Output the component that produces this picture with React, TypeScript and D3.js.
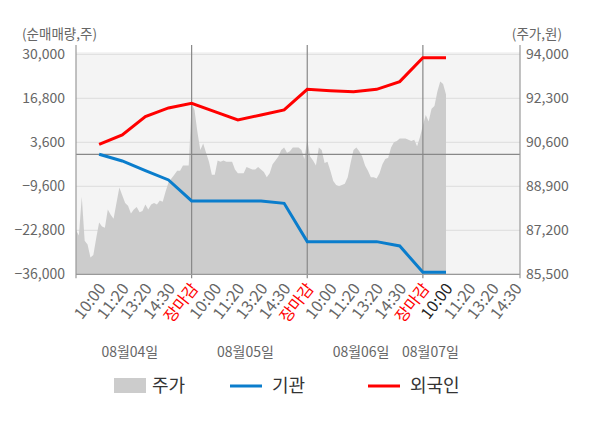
import * as d3 from 'd3';

const dayTimes = ['10:00', '11:20', '13:20', '14:30', '장마감'];
const dates = ['08월04일', '08월05일', '08월06일', '08월07일'];
const tickLabels = [...dayTimes, ...dayTimes, ...dayTimes, ...dayTimes.slice(0, 4)];

const volumeTicks = [30000, 16800, 3600, -9600, -22800, -36000];
const priceTicks = [94000, 92300, 90600, 88900, 87200, 85500];

// net buying (shares), one value per time tick, from 10:00 on 08/04
const foreign = [3000, 5800, 11300, 13900, 15300, 12800, 10300, 11800, 13300, 19500, 19100, 18800, 19500, 21800, 29000, 29000];
const institution = [0, -2000, -4900, -7700, -14000, -14000, -14000, -14000, -14700, -26200, -26200, -26200, -26200, -27500, -35400, -35400];

// share price, sampled 8 times per tick interval
const price = [
  87200, 87000, 88500, 86800, 86650, 86150, 86250, 86900, 87500, 87350,
  87300, 88000, 87800, 87650, 88250, 88850, 88550, 88250, 88150, 87850,
  88000, 88100, 87900, 87950, 88200, 88000, 88200, 88250, 88200, 88350,
  88300, 88700, 89050, 89200, 89350, 89500, 89500, 89700, 89700, 89700,
  92100, 91850, 91000, 90300, 90550, 90200, 89850, 89350, 89350, 89900,
  89850, 89900, 89850, 89850, 89850, 89550, 89400, 89400, 89400, 89650,
  89600, 89550, 89550, 89650, 89550, 89450, 89250, 89400, 89750, 89900,
  90050, 90300, 90400, 90200, 90250, 90400, 90400, 90400, 90300, 89950,
  90700, 90050, 89900, 89700, 90400, 90300, 89800, 89850, 89500, 89100,
  88950, 88900, 88950, 89000, 89250, 89800, 90300, 90400, 90250, 90050,
  89700, 89500, 89250, 89250, 89200, 89400, 89750, 89950, 90000, 90400,
  90600, 90650, 90750, 90750, 90750, 90700, 90650, 90700, 90450, 90800,
  91250, 91650, 91400, 91900, 92000, 92550, 92950, 92850, 92450,
];
const PRICE_STEP = 1 / 8;
const TICKS_PER_DAY = 5;

const FONT = '"Noto Sans CJK KR", "Noto Sans", sans-serif';
const left = 76;
const right = 520;
const top = 54.3;
const bottom = 274.3;

export default function App() {
  const x = d3.scaleLinear().domain([0, 19.2]).range([left, right]);
  const yL = d3.scaleLinear().domain([-36000, 30000]).range([bottom, top]);
  const yR = d3.scaleLinear().domain([85500, 94000]).range([bottom, top]);

  const area = d3
    .area<number>()
    .x((_, i) => x(i * PRICE_STEP))
    .y0(bottom)
    .y1((d) => yR(d));
  const line = d3
    .line<number>()
    .x((_, i) => x(i + 1))
    .y((d) => yL(d));

  const lastSlot = (price.length - 1) * PRICE_STEP;
  const separators = [1, 2, 3].map((d) => d * TICKS_PER_DAY);

  return (
    <div style={{ position: 'absolute', left: 0, top: 0 }}>
      <svg width={600} height={428} style={{ fontFamily: FONT, display: 'block' }}>
        <rect x={left} y={52} width={right - left} height={bottom - 52} fill="#f4f4f4" />
        {volumeTicks.map((t) => (
          <line key={t} x1={left} x2={right} y1={yL(t)} y2={yL(t)} stroke="#dcdcdc" strokeWidth={1} />
        ))}
        <path d={area(price) ?? ''} fill="#cccccc" />
        <line x1={left} x2={right} y1={yL(0)} y2={yL(0)} stroke="#888" strokeWidth={1.3} />
        {separators.map((s) => (
          <line key={s} x1={x(s)} x2={x(s)} y1={45} y2={bottom + 4} stroke="#888" strokeWidth={1.2} />
        ))}
        <line x1={left} x2={left} y1={45} y2={bottom + 4} stroke="#999" strokeWidth={1.2} />
        <line x1={right} x2={right} y1={45} y2={bottom + 4} stroke="#999" strokeWidth={1.2} />
        <line x1={left} x2={right} y1={bottom} y2={bottom} stroke="#999" strokeWidth={1.2} />

        <path d={line(institution) ?? ''} fill="none" stroke="#0a7dcc" strokeWidth={3} />
        <path d={line(foreign) ?? ''} fill="none" stroke="#ff0000" strokeWidth={3} />

        {volumeTicks.map((t) => (
          <text key={t} x={65} y={yL(t)} dy="0.35em" textAnchor="end" fontSize={14} fill="#666">
            {d3.format(',')(t)}
          </text>
        ))}
        {priceTicks.map((t) => (
          <text key={t} x={526} y={yR(t)} dy="0.35em" fontSize={14} fill="#666">
            {d3.format(',')(t)}
          </text>
        ))}
        <text x={22} y={34} dy="0.35em" fontSize={13.5} fill="#666">(순매매량,주)</text>
        <text x={562} y={34} dy="0.35em" textAnchor="end" fontSize={13.5} fill="#666">(주가,원)</text>

        {tickLabels.map((label, k) => {
          const tx = x(k + 1) + 3;
          const ty = bottom + 11;
          const color = label === '장마감' ? '#ff0000' : k === 15 ? '#222' : '#666';
          return (
            <text
              key={k}
              transform={`translate(${tx},${ty}) rotate(-52)`}
              textAnchor="end"
              dy="0.35em"
              fontSize={16}
              fill={color}
            >
              {label}
            </text>
          );
        })}

        {dates.map((d, i) => {
          const s = i * TICKS_PER_DAY;
          const e = Math.min(s + TICKS_PER_DAY, lastSlot);
          return (
            <text key={d} x={x((s + e) / 2) - 4} y={352} dy="0.35em" textAnchor="middle" fontSize={14} fill="#666">
              {d}
            </text>
          );
        })}

        <g fontSize={18} fill="#333">
          <rect x={114} y={378} width={32} height={15} fill="#cccccc" />
          <text x={152} y={386} dy="0.35em">주가</text>
          <line x1={230} x2={262} y1={386} y2={386} stroke="#0a7dcc" strokeWidth={3} />
          <text x={272} y={386} dy="0.35em">기관</text>
          <line x1={368} x2={400} y1={386} y2={386} stroke="#ff0000" strokeWidth={3} />
          <text x={410} y={386} dy="0.35em">외국인</text>
        </g>
      </svg>
    </div>
  );
}
